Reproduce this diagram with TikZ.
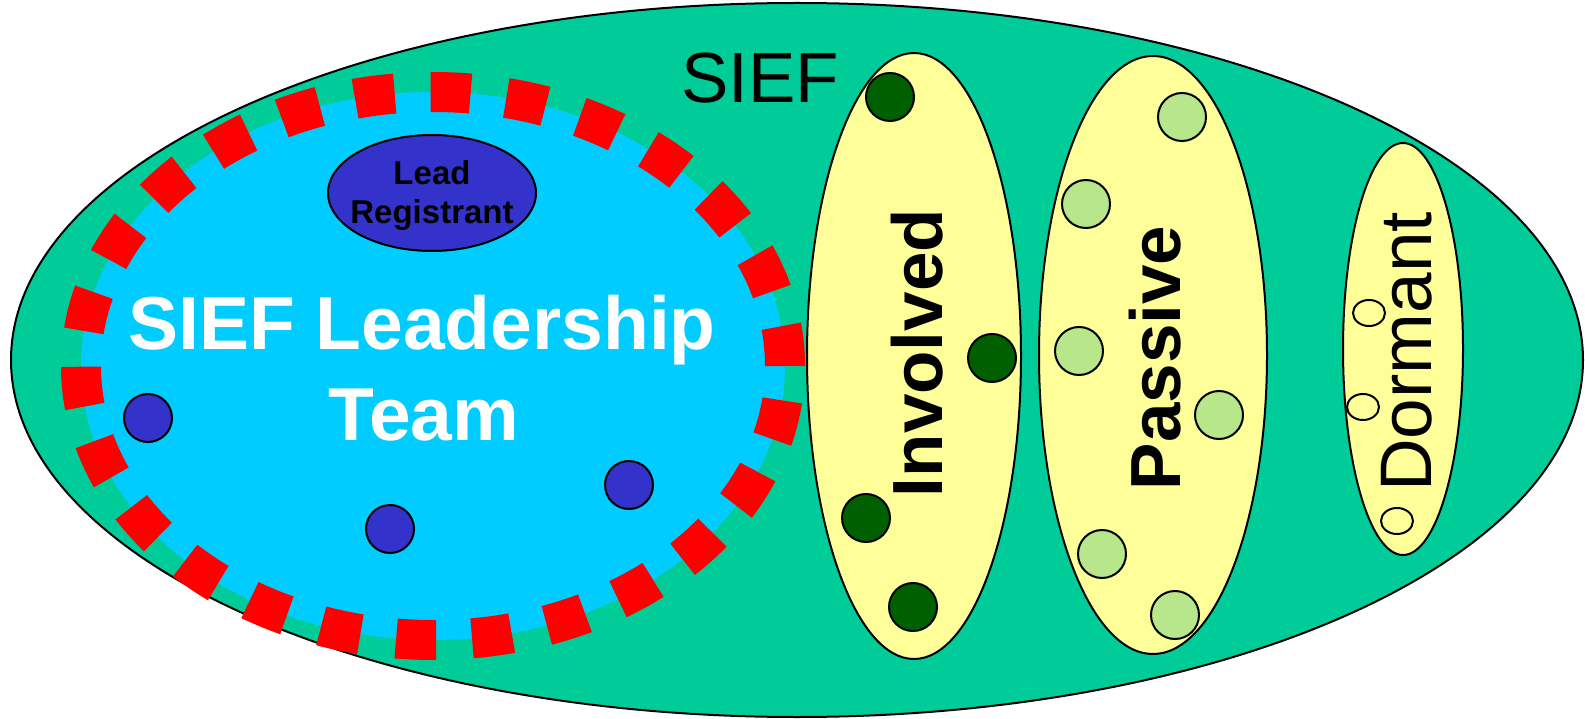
\documentclass[tikz,border=0pt]{standalone}
\usepackage{fontspec}
\setmainfont{Liberation Sans}
\usetikzlibrary{shapes.geometric}
\definecolor{outergreen}{RGB}{0,204,153}
\definecolor{teamblue}{RGB}{0,204,255}
\definecolor{darkblue}{RGB}{51,51,204}
\definecolor{paleyellow}{RGB}{255,255,153}
\definecolor{darkgreen}{RGB}{0,96,0}
\definecolor{lightgreen}{RGB}{184,230,138}
\begin{document}
\begin{tikzpicture}[x=1pt,y=-1pt,
  oval/.style={ellipse, draw=black, line width=2pt, inner sep=0pt},
  dot/.style={oval, minimum width=48pt, minimum height=48pt},
  smalldot/.style={oval, fill=paleyellow, minimum width=32pt, minimum height=26pt},
  group/.style={oval, fill=paleyellow},
  bigbold/.style={font=\bfseries\fontsize{71}{85}\selectfont},
  bigplain/.style={font=\fontsize{73}{87}\selectfont}]
\useasboundingbox (0,0) rectangle (1585,719);
% outer SIEF ellipse
\node[oval, fill=outergreen, minimum width=1572pt, minimum height=714pt] (sief) at (797,360) {};
% leadership team
\node[ellipse, inner sep=0pt, fill=teamblue, draw=red, line width=40pt,
      dash pattern=on 40pt off 36pt, minimum width=704pt, minimum height=548pt] (team) at (433,366) {};
\node[oval, fill=darkblue, minimum width=208pt, minimum height=116pt] (lead) at (432,193) {};
\node[anchor=base, font=\bfseries\fontsize{33}{39}\selectfont] (leadA) at (432,185) {Lead};
\node[anchor=base, font=\bfseries\fontsize{33}{39}\selectfont] (leadB) at (432,224) {Registrant};
\node[anchor=base, text=white, font=\bfseries\fontsize{75}{90}\selectfont] (teamA) at (422,349) {SIEF Leadership};
\node[anchor=base, text=white, font=\bfseries\fontsize{75}{90}\selectfont] (teamB) at (424,440) {Team};
\node[dot, fill=darkblue] (b1) at (148,418) {};
\node[dot, fill=darkblue] (b2) at (390,529) {};
\node[dot, fill=darkblue] (b3) at (629,485) {};
% SIEF label
\node[anchor=base, font=\fontsize{71}{85}\selectfont] (sieflbl) at (760,103) {SIEF};
% Involved
\node[group, minimum width=214pt, minimum height=606pt] (inv) at (914,356) {};
\node[rotate=90, anchor=base, bigbold] (invtxt) at (942,353) {Involved};
\node[dot, fill=darkgreen] (g1) at (890,97) {};
\node[dot, fill=darkgreen] (g2) at (992,358) {};
\node[dot, fill=darkgreen] (g3) at (866,518) {};
\node[dot, fill=darkgreen] (g4) at (913,607) {};
% Passive
\node[group, minimum width=228pt, minimum height=598pt] (pas) at (1153,355) {};
\node[rotate=90, anchor=base, bigbold] (pastxt) at (1180,358) {Passive};
\node[dot, fill=lightgreen] (l1) at (1182,117) {};
\node[dot, fill=lightgreen] (l2) at (1086,204) {};
\node[dot, fill=lightgreen] (l3) at (1079,351) {};
\node[dot, fill=lightgreen] (l4) at (1219,415) {};
\node[dot, fill=lightgreen] (l5) at (1102,554) {};
\node[dot, fill=lightgreen] (l6) at (1175,615) {};
% Dormant
\node[group, minimum width=120pt, minimum height=412pt] (dor) at (1403,349) {};
\node[rotate=90, anchor=base, bigplain] (dortxt) at (1431,352) {Dormant};
\node[smalldot] (d1) at (1369,313) {};
\node[smalldot] (d2) at (1363,407) {};
\node[smalldot] (d3) at (1397,521) {};
\end{tikzpicture}
\end{document}
